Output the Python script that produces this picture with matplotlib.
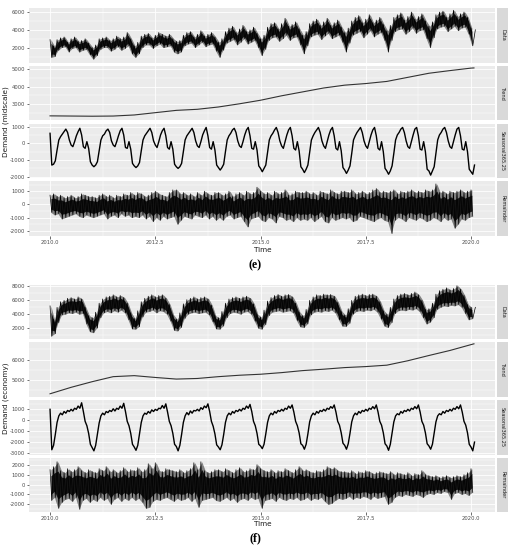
import numpy as np
import matplotlib
matplotlib.use("Agg")
import matplotlib.pyplot as plt
from matplotlib.ticker import FixedLocator

W, H = 511, 550

# ---------------- (e) midscale ----------------
e_data_hi = [2900, 2200, 2900, 3100, 3200, 2600, 3000, 3200, 2700, 2800, 3000, 2500,
             2000, 2300, 3000, 3100, 3200, 2800, 3000, 3300, 3000, 3200, 3700, 3000,
             2200, 2600, 3300, 3500, 3600, 3100, 3400, 3700, 3500, 3300, 3500, 3000,
             2700, 2800, 3400, 3700, 3800, 3200, 3500, 3900, 3300, 3500, 3700, 3200,
             2600, 3000, 3800, 4200, 4400, 3700, 4100, 4500, 3800, 4000, 4300, 3600,
             3000, 3400, 4300, 4700, 4800, 4100, 4700, 5300, 4400, 4600, 4900, 4100,
             3400, 3800, 4700, 5000, 5200, 4500, 4900, 5300, 4500, 4800, 5100, 4300,
             3700, 4200, 5000, 5400, 5600, 4800, 5200, 5700, 4800, 5100, 5400, 4600,
             3900, 4500, 5400, 5700, 5900, 5100, 5500, 6000, 5200, 5500, 5800, 5000,
             4400, 4900, 5700, 6000, 6100, 5400, 5800, 6200, 5500, 5800, 6000, 5400,
             4200]
e_data_lo = [900, 1000, 1700, 2000, 2100, 1500, 1900, 2000, 1500, 1700, 1800, 1200,
             700, 1100, 1800, 2000, 2000, 1600, 1800, 2100, 1700, 1900, 2200, 1300,
             900, 1300, 2000, 2300, 2300, 1900, 2200, 2400, 2000, 2100, 2200, 1500,
             1300, 1500, 2200, 2400, 2500, 2000, 2300, 2600, 2100, 2300, 2400, 1600,
             900, 1700, 2500, 2700, 2900, 2300, 2600, 3000, 2400, 2600, 2800, 2000,
             1100, 1800, 2800, 3100, 3200, 2700, 3000, 3400, 2800, 3100, 3200, 2300,
             1300, 2200, 3200, 3400, 3500, 2900, 3300, 3600, 3000, 3200, 3400, 2600,
             1500, 2500, 3400, 3600, 3800, 3100, 3500, 3900, 3200, 3500, 3700, 2800,
             1500, 2800, 3800, 4000, 4100, 3500, 3800, 4200, 3600, 3900, 4000, 3000,
             2000, 3100, 4100, 4300, 4400, 3800, 4100, 4400, 3900, 4200, 4300, 3500,
             2200]
e_data_end = [4000]

e_trend_t = [2010.0, 2010.5, 2011.0, 2011.5, 2012.0, 2012.5, 2013.0, 2013.5, 2014.0, 2014.5,
             2015.0, 2015.5, 2016.0, 2016.5, 2017.0, 2017.5, 2018.0, 2018.5, 2019.0, 2019.5,
             2020.0, 2020.07]
e_trend = [2350, 2340, 2330, 2340, 2400, 2530, 2660, 2720, 2850, 3030,
           3230, 3480, 3700, 3920, 4080, 4170, 4290, 4520, 4750, 4900,
           5040, 5050]

e_seasonal = [
    [600, -1300, -1250, -1050, -400, 200, 400, 550, 700, 850, 650, 200, -100, -200, 100, 450, 700, 900, 500, -200, -300, 100, -300, -1100],
    [-1300, -1400, -1300, -1100, -450, 200, 450, 550, 750, 850, 650, 150, -100, -200, 100, 450, 750, 900, 500, -250, -300, 100, -350, -1200],
    [-1350, -1450, -1350, -1150, -450, 200, 450, 600, 750, 900, 650, 150, -100, -250, 100, 500, 750, 900, 450, -250, -350, 100, -350, -1250],
    [-1400, -1500, -1400, -1200, -500, 200, 450, 600, 750, 900, 650, 150, -150, -250, 100, 500, 750, 950, 450, -250, -350, 100, -400, -1300],
    [-1450, -1600, -1450, -1250, -500, 200, 450, 600, 800, 900, 650, 150, -150, -250, 100, 500, 800, 950, 450, -300, -350, 100, -400, -1350],
    [-1500, -1700, -1500, -1300, -550, 200, 450, 600, 800, 950, 650, 150, -150, -300, 100, 500, 800, 950, 450, -300, -400, 100, -450, -1400],
    [-1550, -1750, -1550, -1300, -550, 200, 450, 650, 800, 950, 650, 150, -150, -300, 100, 500, 800, 950, 450, -300, -400, 100, -450, -1450],
    [-1600, -1800, -1600, -1350, -600, 200, 450, 650, 800, 950, 650, 150, -150, -300, 100, 500, 800, 950, 450, -300, -400, 100, -500, -1500],
    [-1650, -1850, -1650, -1350, -600, 200, 500, 650, 850, 950, 650, 150, -200, -300, 100, 500, 850, 950, 450, -350, -400, 100, -500, -1550],
    [-1650, -1900, -1650, -1400, -600, 200, 500, 650, 850, 950, 650, 150, -200, -300, 100, 500, 850, 950, 450, -350, -400, 100, -500, -1550],
]
e_seasonal_end = [-1700, -1850, -1300]

e_rem_hi = [700, 800, 600, 700, 500, 600, 700, 500, 600, 800, 700, 600,
            600, 500, 700, 800, 600, 700, 500, 700, 600, 800, 700, 900,
            700, 900, 800, 600, 700, 900, 1000, 800, 700, 600, 900, 1100,
            1100, 800, 900, 700, 800, 600, 900, 700, 1000, 800, 700, 900,
            900, 700, 800, 1000, 600, 800, 900, 700, 1000, 800, 900, 1300,
            1000, 800, 900, 700, 1000, 800, 900, 1100, 700, 800, 1000, 900,
            900, 1000, 800, 900, 700, 1000, 900, 800, 1100, 900, 800, 1000,
            1000, 900, 1100, 800, 900, 1000, 800, 900, 1100, 1200, 900, 1000,
            900, 1000, 1100, 800, 1000, 900, 1000, 1100, 900, 1000, 900, 1100,
            1000, 1100, 1550, 900, 1000, 800, 1000, 900, 1000, 1100, 900, 1000,
            1100]
e_rem_lo = [-600, -800, -700, -1100, -1000, -900, -800, -700, -900, -1000, -800, -900,
            -1000, -900, -800, -700, -1100, -900, -800, -1000, -700, -900, -800, -1000,
            -900, -1000, -800, -1100, -900, -1300, -1000, -1200, -900, -1100, -1000, -900,
            -1500, -1200, -900, -1000, -1100, -800, -900, -1000, -800, -1100, -900, -1200,
            -1000, -1200, -900, -800, -1100, -1000, -900, -1300, -1700, -1100, -1000, -900,
            -1200, -1300, -1000, -1100, -1400, -900, -1000, -1200, -1100, -1300, -1000, -1200,
            -1100, -1200, -1000, -1300, -1100, -900, -1300, -1400, -1000, -1200, -1100, -1000,
            -1100, -1000, -1300, -1200, -900, -1000, -1100, -1200, -1300, -1100, -1000, -1200,
            -1300, -2200, -1200, -1000, -1100, -1300, -1000, -1100, -1200, -1000, -1100, -1300,
            -1200, -1000, -1100, -1300, -1000, -1200, -1100, -1800, -1500, -1100, -1200, -1000,
            -900]

# ---------------- (f) economy ----------------
f_data_hi = [5200, 3300, 5000, 5800, 6000, 6300, 6400, 6200, 6500, 6200, 5000, 3800,
             3500, 4300, 5600, 6200, 6500, 6600, 6800, 6500, 6700, 6400, 5600, 4200,
             3400, 4500, 5800, 6300, 6600, 6800, 6500, 6700, 6800, 6300, 5400, 3900,
             3300, 4200, 5500, 6100, 6300, 6500, 6200, 6400, 6500, 6200, 5300, 3800,
             3500, 4400, 5600, 6200, 6400, 6500, 6300, 6500, 6600, 6300, 5500, 4000,
             3600, 4600, 5900, 6400, 6700, 6850, 6600, 6800, 6850, 6500, 5600, 4300,
             3800, 4700, 6000, 6500, 6800, 6700, 6900, 6800, 6850, 6600, 5700, 4400,
             3900, 4800, 6000, 6600, 6800, 6900, 6700, 6850, 6900, 6600, 5800, 4500,
             4000, 5000, 6200, 6700, 6900, 7000, 6800, 7000, 7200, 6800, 6000, 4700,
             4800, 5600, 6900, 7400, 7600, 7800, 7500, 7700, 8100, 7600, 6700, 5400,
             5000]
f_data_lo = [850, 1200, 2800, 3900, 4000, 4200, 4100, 4300, 4000, 4100, 2600, 1500,
             1350, 2000, 3500, 4200, 4400, 4200, 4500, 4300, 4600, 4200, 3200, 1900,
             1850, 2200, 3600, 4300, 4400, 4600, 4200, 4500, 4400, 4000, 3000, 1700,
             1600, 2100, 3400, 4000, 4200, 4300, 4100, 4200, 4300, 3900, 2900, 1900,
             1850, 2300, 3500, 4100, 4300, 4200, 4000, 4300, 4400, 4000, 3000, 2000,
             1850, 2500, 3800, 4300, 4400, 4500, 4300, 4400, 4500, 4200, 3100, 2200,
             2100, 2600, 3900, 4300, 4400, 4300, 4500, 4400, 4600, 4200, 3200, 2300,
             2250, 2700, 4000, 4400, 4500, 4400, 4600, 4500, 4700, 4300, 3300, 2300,
             2100, 2800, 4100, 4500, 4600, 4500, 4700, 4600, 4800, 4400, 3500, 2600,
             2850, 3500, 4700, 5000, 5200, 5100, 5300, 5200, 5400, 5000, 4100, 3200,
             3350]
f_data_end = [5000]

f_trend_t = e_trend_t
f_trend = [4300, 4620, 4900, 5150, 5200, 5110, 5030, 5060, 5150, 5220,
           5270, 5350, 5450, 5520, 5600, 5650, 5720, 5940, 6200, 6450,
           6740, 6780]

f_seasonal = [
    [1000, -2700, -2300, -1300, -200, 400, 650, 500, 800, 650, 900, 800, 1000, 850, 1100, 1000, 1300, 1100, 1600, 800, -100, -500, -1200, -2200],
    [-2500, -2800, -2300, -1300, -250, 400, 650, 500, 800, 700, 900, 800, 1050, 850, 1100, 1000, 1300, 1100, 1550, 800, -100, -500, -1200, -2200],
    [-2450, -2750, -2300, -1250, -200, 400, 650, 550, 800, 650, 950, 800, 1000, 900, 1100, 1050, 1350, 1100, 1500, 750, -100, -500, -1200, -2200],
    [-2400, -2800, -2300, -1300, -200, 400, 700, 500, 850, 650, 900, 850, 1000, 850, 1150, 1000, 1300, 1150, 1500, 800, -100, -550, -1250, -2250],
    [-2450, -2700, -2250, -1300, -200, 400, 650, 500, 800, 650, 900, 800, 1000, 850, 1100, 1000, 1300, 1100, 1450, 800, -100, -500, -1200, -2200],
    [-2350, -2600, -2200, -1250, -200, 400, 650, 500, 800, 650, 900, 800, 1000, 850, 1100, 1000, 1300, 1100, 1400, 750, -100, -500, -1150, -2150],
    [-2300, -2650, -2200, -1250, -150, 400, 650, 500, 800, 650, 900, 800, 1000, 850, 1100, 1000, 1250, 1100, 1400, 750, -100, -450, -1150, -2100],
    [-2300, -2650, -2150, -1200, -150, 400, 650, 500, 800, 650, 900, 800, 1000, 850, 1100, 1000, 1250, 1050, 1400, 750, -100, -450, -1150, -2150],
    [-2350, -2750, -2200, -1200, -150, 400, 600, 500, 800, 650, 900, 800, 1000, 850, 1100, 1000, 1250, 1050, 1400, 750, -100, -450, -1150, -2150],
    [-2350, -2650, -2200, -1200, -150, 400, 600, 500, 800, 650, 900, 800, 1000, 850, 1100, 1000, 1250, 1050, 1400, 750, -100, -450, -1150, -2200],
]
f_seasonal_end = [-2450, -2800, -2000]

f_rem_hi = [1500, 1800, 2300, 1400, 1200, 1600, 1300, 1500, 1800, 1400, 1200, 1500,
            1300, 1200, 1600, 1400, 1800, 1300, 1500, 1200, 1400, 1700, 1300, 1500,
            1400, 1700, 1300, 1500, 2100, 1600, 2200, 1400, 1300, 1600, 1500, 1400,
            1300, 1500, 1200, 1400, 1600, 2200, 1500, 2300, 1400, 1200, 1300, 1500,
            1500, 1300, 1600, 1400, 1200, 1500, 1700, 1300, 1400, 1600, 1500, 2000,
            1600, 1400, 1300, 1500, 1200, 1400, 1300, 1600, 1400, 1200, 1500, 1800,
            1400, 1500, 1300, 1200, 1400, 1300, 1500, 1800, 1600, 1700, 1400, 1300,
            1300, 1200, 1400, 1100, 1300, 1200, 1400, 1300, 1100, 1200, 1300, 1200,
            1100, 1300, 1000, 1200, 1100, 1000, 1200, 900, 1100, 1000, 1400, 1000,
            900, 800, 900, 700, 800, 900, 700, 800, 900, 800, 1000, 1200,
            1600]
f_rem_lo = [-1600, -1300, -2400, -1800, -1500, -1400, -1700, -1300, -2500, -1600, -1400, -1800,
            -1500, -1700, -1300, -1600, -1400, -2000, -1500, -1300, -1700, -1400, -1600, -1300,
            -1600, -1400, -1800, -2400, -2300, -1700, -1500, -1600, -1400, -1300, -1500, -1700,
            -1400, -1600, -1500, -1300, -1700, -1400, -2300, -1600, -1500, -1400, -1300, -1600,
            -1700, -1500, -1300, -1600, -1400, -1800, -1500, -1400, -1600, -1300, -1500, -1400,
            -2400, -1600, -1500, -1400, -1700, -1300, -1500, -1600, -1400, -1500, -1300, -1600,
            -1500, -1300, -1600, -1400, -1500, -1300, -1700, -2000, -1900, -1600, -1400, -1500,
            -1400, -1200, -1500, -1300, -1400, -1200, -1300, -1500, -1200, -1400, -1300, -1200,
            -2000, -1800, -1300, -1100, -1200, -1000, -1100, -1200, -1000, -1100, -1300, -1000,
            -900, -1000, -800, -900, -700, -800, -1500, -900, -800, -1000, -900, -1100,
            -800]

x_ticks = [2010.0, 2012.5, 2015.0, 2017.5, 2020.0]
x_tick_labels = ["2010.0", "2012.5", "2015.0", "2017.5", "2020.0"]
strip_labels = ["Data", "Trend", "Seasonal365.25", "Remainder"]

# ---------------- drawing helpers ----------------
PANEL_BG = "#EBEBEB"
STRIP_BG = "#D9D9D9"
TICK_COL = "#4D4D4D"
XLIM = (2009.50, 2020.57)
START = 2010.0

fig = plt.figure(figsize=(W / 100, H / 100), dpi=100)
fig.patch.set_facecolor("white")


def rect(x0, y0, x1, y1):
    return [x0 / W, 1 - y1 / H, (x1 - x0) / W, (y1 - y0) / H]


def zigzag(hi, lo):
    n = len(hi)
    t_hi = START + np.arange(n) / 12.0
    t_lo = t_hi + 1 / 24.0
    x = np.column_stack([t_hi, t_lo]).ravel()
    y = np.column_stack([np.asarray(hi, float), np.asarray(lo, float)]).ravel()
    return x, y


def band(ax, hi, lo, end=None):
    hi = np.asarray(hi, float)
    lo = np.asarray(lo, float)
    t = START + np.arange(len(hi)) / 12.0 + 1 / 48.0
    core_hi = lo + (hi - lo) * 0.8
    core_lo = lo + (hi - lo) * 0.2
    ax.fill_between(t, core_lo, core_hi, color="black", lw=0, alpha=0.85)
    ax.fill_between(t, lo, hi, color="black", lw=0, alpha=0.45)
    x, y = zigzag(hi, lo)
    if end is not None:
        x = np.append(x, START + len(hi) / 12.0 + 0.02)
        y = np.append(y, end)
    ax.plot(x, y, color="black", lw=0.5)


def style_axes(ax, ylim, yticks, xlabels):
    ax.set_facecolor(PANEL_BG)
    ax.set_xlim(*XLIM)
    ax.set_ylim(*ylim)
    ax.xaxis.set_major_locator(FixedLocator(x_ticks))
    minor_x = [(a + b) / 2 for a, b in zip(x_ticks[:-1], x_ticks[1:])]
    minor_x = [x_ticks[0] - 1.25] + minor_x + [x_ticks[-1] + 1.25]
    ax.xaxis.set_minor_locator(FixedLocator(minor_x))
    ax.yaxis.set_major_locator(FixedLocator(yticks))
    step = yticks[1] - yticks[0]
    minor_y = [yticks[0] - step / 2] + [v + step / 2 for v in yticks]
    ax.yaxis.set_minor_locator(FixedLocator(minor_y))
    ax.grid(which="major", color="white", lw=0.6)
    ax.grid(which="minor", color="white", lw=0.3)
    ax.set_axisbelow(True)
    for s in ax.spines.values():
        s.set_visible(False)
    ax.tick_params(axis="y", which="major", length=1.8, width=0.5, color="#333333",
                   labelsize=3.8, labelcolor=TICK_COL, pad=1)
    ax.tick_params(which="minor", length=0)
    ax.set_yticklabels([str(v) for v in yticks])
    if xlabels:
        ax.tick_params(axis="x", which="major", length=1.8, width=0.5, color="#333333",
                       labelsize=3.8, labelcolor=TICK_COL, pad=1)
        ax.set_xticklabels(x_tick_labels)
    else:
        ax.tick_params(axis="x", which="major", length=0, labelbottom=False)


def add_strip(y0, y1, label):
    sax = fig.add_axes(rect(497, y0, 508, y1))
    sax.set_facecolor(STRIP_BG)
    sax.set_xticks([])
    sax.set_yticks([])
    for s in sax.spines.values():
        s.set_visible(False)
    sax.text(0.5, 0.5, label, rotation=270, ha="center", va="center",
             fontsize=3.6, color="#1A1A1A", transform=sax.transAxes)


def draw_block(panels, ylims, yticks, data_hi, data_lo, data_end, trend_t, trend,
               seasonal, seasonal_end, rem_hi, rem_lo, ylabel, ylabel_y,
               time_y, tag, tag_y):
    axes = []
    for i, (y0, y1) in enumerate(panels):
        ax = fig.add_axes(rect(29, y0, 495, y1))
        style_axes(ax, ylims[i], yticks[i], xlabels=(i == 3))
        add_strip(y0, y1, strip_labels[i])
        axes.append(ax)
    band(axes[0], data_hi, data_lo, data_end)
    axes[1].plot(trend_t, trend, color="#333333", lw=0.8)
    s = np.concatenate([np.ravel(seasonal), seasonal_end]).astype(float)
    ts = START + np.arange(len(s)) / 24.0
    axes[2].plot(ts, s, color="black", lw=1.0)
    band(axes[3], rem_hi, rem_lo)
    fig.text(6 / W, 1 - ylabel_y / H, ylabel, rotation=90, ha="center", va="center",
             fontsize=5.2, color="#1A1A1A")
    fig.text(263 / W, 1 - time_y / H, "Time", ha="center", va="center",
             fontsize=5.2, color="#1A1A1A")
    fig.text(255 / W, 1 - tag_y / H, tag, ha="center", va="center",
             fontsize=8.5, fontweight="bold", family=["Liberation Serif", "DejaVu Serif"],
             color="black")


draw_block(
    panels=[(8, 62.5), (65.8, 120.3), (123.6, 178.1), (181.4, 235.9)],
    ylims=[(330, 6450), (2100, 5170), (-2080, 1180), (-2380, 1740)],
    yticks=[[2000, 4000, 6000], [3000, 4000, 5000], [-2000, -1000, 0, 1000],
            [-2000, -1000, 0, 1000]],
    data_hi=e_data_hi, data_lo=e_data_lo, data_end=e_data_end,
    trend_t=e_trend_t, trend=e_trend,
    seasonal=e_seasonal, seasonal_end=e_seasonal_end,
    rem_hi=e_rem_hi, rem_lo=e_rem_lo,
    ylabel="Demand (midscale)", ylabel_y=122, time_y=249.5,
    tag="(e)", tag_y=265)

draw_block(
    panels=[(285, 339), (342, 396.5), (399.5, 455), (457.5, 512)],
    ylims=[(450, 8200), (4165, 6870), (-3180, 1900), (-2770, 2730)],
    yticks=[[2000, 4000, 6000, 8000], [5000, 6000], [-3000, -2000, -1000, 0, 1000],
            [-2000, -1000, 0, 1000, 2000]],
    data_hi=f_data_hi, data_lo=f_data_lo, data_end=f_data_end,
    trend_t=f_trend_t, trend=f_trend,
    seasonal=f_seasonal, seasonal_end=f_seasonal_end,
    rem_hi=f_rem_hi, rem_lo=f_rem_lo,
    ylabel="Demand (economy)", ylabel_y=398, time_y=523.5,
    tag="(f)", tag_y=538)

fig.savefig("out.png", dpi=100, facecolor="white")
